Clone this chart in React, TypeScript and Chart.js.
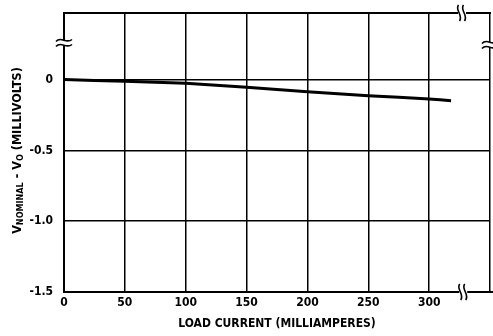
import React, { useEffect, useRef } from "react";
import { Chart, registerables } from "chart.js";

Chart.register(...registerables);

const loadCurrent = [0, 50, 100, 150, 200, 250, 300, 318];
const deltaV = [0, -0.012, -0.026, -0.055, -0.086, -0.114, -0.137, -0.149];
const yTickValues = [-1.5, -1.0, -0.5, 0];
const xTickValues = [0, 50, 100, 150, 200, 250, 300, 350];
const xTitle = "LOAD CURRENT (MILLIAMPERES)";
const yTitleParts = [
  { t: "V", sub: false },
  { t: "NOMINAL", sub: true },
  { t: " - V", sub: false },
  { t: "O", sub: true },
  { t: " (MILLIVOLTS)", sub: false },
];

const FONT = "'Liberation Sans Narrow', 'DejaVu Sans Condensed', 'Liberation Sans', sans-serif";

function wavyV(ctx: CanvasRenderingContext2D, x: number, y: number) {
  ctx.save();
  ctx.fillStyle = "#fff";
  ctx.fillRect(x - 4, y - 3, 8, 6);
  ctx.strokeStyle = "#000";
  ctx.lineWidth = 1.6;
  for (const dx of [-2.5, 2.5]) {
    ctx.beginPath();
    ctx.moveTo(x + dx - 1, y - 8);
    ctx.bezierCurveTo(x + dx - 5, y - 3, x + dx + 4, y + 2, x + dx, y + 8);
    ctx.stroke();
  }
  ctx.restore();
}

function wavyH(ctx: CanvasRenderingContext2D, x: number, y: number) {
  ctx.save();
  ctx.fillStyle = "#fff";
  ctx.fillRect(x - 3, y - 3, 6, 6);
  ctx.strokeStyle = "#000";
  ctx.lineWidth = 1.6;
  for (const dy of [-2.5, 2.5]) {
    ctx.beginPath();
    ctx.moveTo(x - 8, y + dy + 1);
    ctx.bezierCurveTo(x - 3, y + dy - 5, x + 2, y + dy + 4, x + 8, y + dy - 1);
    ctx.stroke();
  }
  ctx.restore();
}

const decorPlugin = {
  id: "decor",
  afterDraw(chart: any) {
    const ctx = chart.ctx as CanvasRenderingContext2D;
    const a = chart.chartArea;
    const xs = chart.scales.x;
    ctx.save();
    ctx.strokeStyle = "#000";
    ctx.lineWidth = 2;
    ctx.beginPath();
    ctx.moveTo(a.right, a.bottom);
    ctx.lineTo(493, a.bottom);
    ctx.moveTo(a.left - 1, a.top);
    ctx.lineTo(a.right + 1, a.top);
    ctx.stroke();
    ctx.restore();
    wavyH(ctx, a.left, 43);
    wavyH(ctx, a.right, 45);
    wavyV(ctx, xs.getPixelForValue(327), a.top);
    wavyV(ctx, xs.getPixelForValue(328), a.bottom);

    ctx.save();
    ctx.translate(18, (a.top + a.bottom) / 2 - 2);
    ctx.rotate(-Math.PI / 2);
    ctx.fillStyle = "#000";
    const big = "bold 12.5px " + FONT;
    const small = "bold 9px " + FONT;
    let total = 0;
    for (const p of yTitleParts) {
      ctx.font = p.sub ? small : big;
      total += ctx.measureText(p.t).width;
    }
    let cx = -total / 2;
    ctx.textBaseline = "middle";
    for (const p of yTitleParts) {
      ctx.font = p.sub ? small : big;
      ctx.fillText(p.t, cx, p.sub ? 2.5 : 0);
      cx += ctx.measureText(p.t).width;
    }
    ctx.restore();
  },
};

export default function App() {
  const ref = useRef<HTMLCanvasElement>(null);
  useEffect(() => {
    document.body.style.margin = "0";
    const chart = new Chart(ref.current!, {
      type: "line",
      data: {
        datasets: [
          {
            data: loadCurrent.map((x, i) => ({ x, y: deltaV[i] })),
            borderColor: "#000",
            borderWidth: 3,
            pointRadius: 0,
            tension: 0.15,
            fill: false,
          },
        ],
      },
      options: {
        responsive: false,
        animation: false,
        layout: { padding: { left: 0, right: 3, top: 13, bottom: 0 } },
        plugins: { legend: { display: false }, tooltip: { enabled: false } },
        scales: {
          x: {
            type: "linear",
            min: 0,
            max: 350,
            afterFit(s: any) {
              s.height = 44;
              s.paddingLeft = 0;
              s.paddingRight = 0;
            },
            afterBuildTicks(s: any) {
              s.ticks = xTickValues.map((v) => ({ value: v }));
            },
            ticks: {
              color: "#000",
              font: { family: FONT, size: 12, weight: "bold" },
              padding: 4,
              maxRotation: 0,
              callback: (v: any) => (v === 350 ? "" : String(v)),
            },
            grid: { color: "#000", lineWidth: 1.5, drawTicks: false },
            border: { color: "#000", width: 2 },
            title: {
              display: true,
              text: xTitle,
              color: "#000",
              font: { family: FONT, size: 12, weight: "bold" },
              padding: { top: 0, bottom: 5 },
            },
          },
          y: {
            type: "linear",
            min: -1.5,
            max: 0.47,
            afterFit(s: any) {
              s.width = 64;
              s.paddingTop = 0;
              s.paddingBottom = 0;
            },
            afterBuildTicks(s: any) {
              s.ticks = yTickValues.map((v) => ({ value: v }));
            },
            ticks: {
              color: "#000",
              font: { family: FONT, size: 12, weight: "bold" },
              padding: 11,
              callback: (v: any) => (v === 0 ? "0" : Number(v).toFixed(1)),
            },
            grid: { color: "#000", lineWidth: 1.5, drawTicks: false },
            border: { color: "#000", width: 2 },
          },
        },
      },
      plugins: [decorPlugin],
    });
    return () => chart.destroy();
  }, []);
  return <canvas ref={ref} width={493} height={336} style={{ display: "block" }} />;
}
